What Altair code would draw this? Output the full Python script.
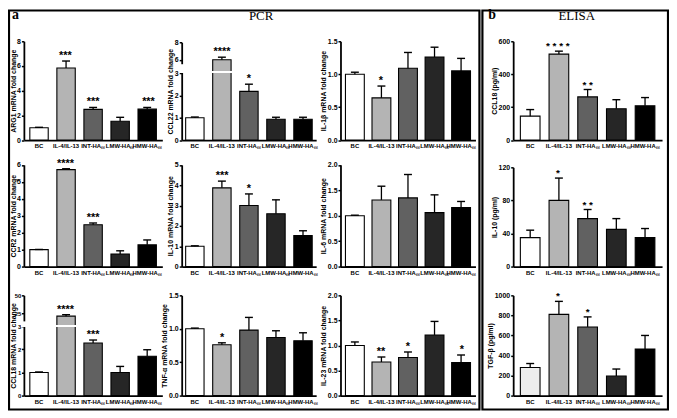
import altair as alt
import pandas as pd

# ---------------- data ----------------
categories = ["BC", "IL-4/IL-13", "INT-HAₛₛ", "LMW-HAₛₛ", "HMW-HAₛₛ"]
bar_fill = ["#ffffff", "#b4b4b4", "#616161", "#262626", "#000000"]
tgf_fill = ["#ededed", "#b4b4b4", "#616161", "#262626", "#000000"]

arg1_mean = [1.0, 5.84, 2.48, 1.52, 2.50]
arg1_sem = [0.03, 0.56, 0.16, 0.32, 0.14]
arg1_sig = ["", "***", "***", "", "***"]

ccl22_mean = [1.0, 6.0, 2.18, 0.93, 0.93]
ccl22_sem = [0.03, 0.3, 0.32, 0.09, 0.09]
ccl22_sig = ["", "****", "*", "", ""]

il1b_mean = [1.0, 0.64, 1.09, 1.26, 1.05]
il1b_sem = [0.03, 0.18, 0.24, 0.15, 0.19]
il1b_sig = ["", "*", "", "", ""]

ccl18e_mean = [145, 522, 262, 190, 208]
ccl18e_sem = [40, 18, 45, 55, 50]
ccl18e_sig = ["", "* * * *", "* *", "", ""]

ccr2_mean = [1.0, 5.72, 2.47, 0.74, 1.28]
ccr2_sem = [0.01, 0.05, 0.1, 0.19, 0.29]
ccr2_sig = ["", "****", "***", "", ""]

il10_mean = [1.0, 3.87, 3.0, 2.6, 1.52]
il10_sem = [0.02, 0.33, 0.57, 0.68, 0.24]
il10_sig = ["", "***", "*", "", ""]

il6_mean = [1.0, 1.31, 1.35, 1.06, 1.16]
il6_sem = [0.01, 0.27, 0.46, 0.35, 0.12]
il6_sig = ["", "", "", "", ""]

il10e_mean = [35, 80, 58, 45, 35]
il10e_sem = [9, 27, 11, 13, 11]
il10e_sig = ["", "*", "* *", "", ""]

ccl18_mean = [1.0, 21.0, 2.27, 1.0, 1.7]
ccl18_sem = [0.02, 2.0, 0.13, 0.26, 0.28]
ccl18_sig = ["", "****", "***", "", ""]

tnf_mean = [1.0, 0.76, 0.98, 0.87, 0.82]
tnf_sem = [0.01, 0.03, 0.19, 0.1, 0.12]
tnf_sig = ["", "*", "", "", ""]

il23_mean = [1.0, 0.67, 0.76, 1.21, 0.66]
il23_sem = [0.07, 0.1, 0.11, 0.27, 0.15]
il23_sig = ["", "**", "*", "", "*"]

tgf_mean = [280, 810, 685, 195, 465]
tgf_sem = [40, 130, 100, 70, 135]
tgf_sig = ["", "*", "*", "", ""]

# ---------------- layout ----------------
OX, OY = 8, 8          # page margin
W, H = 666, 404
COLS = {0: (24, 163.5, 0.32, 0.22), 1: (183, 318.5, 0.32, 0.147),
        2: (343, 479, 0.29, 0.187), 3: (517, 667, 0.315, 0.25)}
ROWS = {0: (139.5, 40), 1: (267, 164.5), 2: (397, 296)}
FONT = "Liberation Sans"

panels = [
    dict(title="ARG1 mRNA fold change", mean=arg1_mean, sem=arg1_sem, sig=arg1_sig,
         ticks=[0, 2, 4, 6, 8], fmt="d", row=0, col=0),
    dict(title="CCL22 mRNA fold change", mean=ccl22_mean, sem=ccl22_sem, sig=ccl22_sig,
         ticks=[0, 1, 2, 3, 6, 8], fmt="d", row=0, col=1,
         domain=[0, 3, 5.4, 8], yrange=[139.5, 72, 64, 41], brk=(3.15, 5.5, 3.3)),
    dict(title="IL-1β mRNA fold change", mean=il1b_mean, sem=il1b_sem, sig=il1b_sig,
         ticks=[0, 0.5, 1.0, 1.5], fmt=".1f", row=0, col=2),
    dict(title="CCL18 (pg/ml)", mean=ccl18e_mean, sem=ccl18e_sem, sig=ccl18e_sig,
         ticks=[0, 200, 400, 600], fmt="d", row=0, col=3),
    dict(title="CCR2 mRNA fold change", mean=ccr2_mean, sem=ccr2_sem, sig=ccr2_sig,
         ticks=[0, 1, 2, 3, 4, 5, 6], fmt="d", row=1, col=0),
    dict(title="IL-10 mRNA fold change", mean=il10_mean, sem=il10_sem, sig=il10_sig,
         ticks=[0, 1, 2, 3, 4, 5], fmt="d", row=1, col=1),
    dict(title="IL-6 mRNA fold change", mean=il6_mean, sem=il6_sem, sig=il6_sig,
         ticks=[0, 0.5, 1.0, 1.5, 2.0], fmt=".1f", row=1, col=2),
    dict(title="IL-10 (pg/ml)", mean=il10e_mean, sem=il10e_sem, sig=il10e_sig,
         ticks=[0, 40, 80, 120], fmt="d", row=1, col=3, yrange=[267, 167]),
    dict(title="CCL18 mRNA fold change", mean=ccl18_mean, sem=ccl18_sem, sig=ccl18_sig,
         ticks=[0, 1, 2, 3, 25, 50], fmt="d", row=2, col=0, label_size=6, label_pad=0.5,
         domain=[0, 3, 14, 50], yrange=[397, 327, 322, 296], brk=(3.1, 13.5, 3.3)),
    dict(title="TNF-α mRNA fold change", mean=tnf_mean, sem=tnf_sem, sig=tnf_sig,
         ticks=[0, 0.5, 1.0, 1.5], fmt=".1f", row=2, col=1),
    dict(title="IL-23 mRNA fold change", mean=il23_mean, sem=il23_sem, sig=il23_sig,
         ticks=[0, 0.5, 1.0, 1.5, 2.0], fmt=".1f", row=2, col=2),
    dict(title="TGF-β (pg/ml)", mean=tgf_mean, sem=tgf_sem, sig=tgf_sig,
         ticks=[0, 200, 400, 600, 800, 1000], fmt="d", row=2, col=3, fill=tgf_fill),
]


def build_panel(p):
    """Return a flat list of layers; every layer carries the same explicit scales."""
    x0, x1, pin, pout = COLS[p["col"]]
    yr = p.get("yrange", list(ROWS[p["row"]]))
    dom = p.get("domain", [p["ticks"][0], p["ticks"][-1]])
    zero = yr[0]
    df = pd.DataFrame({"cat": categories, "mean": p["mean"], "sem": p["sem"], "sig": p["sig"]})
    df["upper"] = df["mean"] + df["sem"]
    xs = alt.Scale(domain=categories, range=[x0 - OX, x1 - OX],
                   paddingInner=pin, paddingOuter=pout)
    ys = alt.Scale(domain=dom, range=[v - OY for v in yr], nice=False, zero=False)
    xaxis = alt.Axis(orient="bottom", offset=(zero - OY) - H, title=None, labelAngle=0,
                     ticks=False, labelFontSize=6, labelPadding=3, labelOverlap=False,
                     domainWidth=1.8)
    yargs = dict(orient="left", offset=-(x0 - OX), title=p["title"], values=p["ticks"],
                 format=p["fmt"], tickSize=2.5, tickWidth=1.5,
                 labelPadding=p.get("label_pad", 1), titlePadding=1,
                 labelFontSize=p.get("label_size", 7), titleFontSize=7,
                 labelOverlap=False, domainWidth=1.8)
    if p["col"] == 0:
        yargs["titleX"] = -7
    yaxis = alt.Axis(**yargs)
    base = alt.Chart(df)
    star_size = 10 if p["col"] == 3 else 11
    bars = base.mark_bar(stroke="black", strokeWidth=1.1).encode(
        x=alt.X("cat:N", scale=xs, axis=xaxis),
        y=alt.Y("mean:Q", scale=ys, axis=yaxis, stack=None),
        fill=alt.Fill("cat:N", scale=alt.Scale(domain=categories,
                                               range=p.get("fill", bar_fill)), legend=None),
    )
    err = base.mark_rule(color="black", strokeWidth=1.3).encode(
        x=alt.X("cat:N", scale=xs, axis=None),
        y=alt.Y("mean:Q", scale=ys, axis=None),
        y2="upper:Q",
    )
    cap = base.mark_tick(color="black", thickness=1.4, size=8, orient="horizontal",
                         opacity=1).encode(
        x=alt.X("cat:N", scale=xs, axis=None),
        y=alt.Y("upper:Q", scale=ys, axis=None),
    )
    stars = base.mark_text(font=FONT, fontSize=star_size, fontWeight="bold",
                           baseline="alphabetic", dy=-2, color="black").encode(
        x=alt.X("cat:N", scale=xs, axis=None),
        y=alt.Y("upper:Q", scale=ys, axis=None),
        text="sig:N",
    )
    layers = [bars, err, cap, stars]
    if "brk" in p:
        lo, hi, cut = p["brk"]
        one = alt.Data(values=[{}])
        gap = alt.Chart(one).mark_rect(color="white").encode(
            x=alt.value(x0 - OX - 2.5), x2=alt.value(x0 - OX + 2.5),
            y=alt.YDatum(lo, axis=None, scale=ys), y2=alt.Y2Datum(hi),
        )
        cutline = alt.Chart(one).mark_rule(color="white", strokeWidth=2).encode(
            x=alt.value(x0 - OX - 3), x2=alt.value(x1 - OX),
            y=alt.YDatum(cut, axis=None, scale=ys),
        )
        layers += [gap, cutline]
    return layers


def deco_text(txt, x, y, size, weight, font, align="left"):
    return alt.Chart(alt.Data(values=[{}])).mark_text(
        text=txt, font=font, fontSize=size, fontWeight=weight, align=align,
        baseline="alphabetic", color="black").encode(
        x=alt.value(x - OX), y=alt.value(y - OY))


def frame(x0, y0, x1, y1):
    return alt.Chart(alt.Data(values=[{}])).mark_rect(
        fillOpacity=0, stroke="black", strokeWidth=2.2).encode(
        x=alt.value(x0 - OX), x2=alt.value(x1 - OX),
        y=alt.value(y0 - OY), y2=alt.value(y1 - OY))


decos = [
    frame(9, 9, 483, 411),
    frame(486, 9, 673, 411),
    deco_text("a", 12, 18, 14, "bold", "Liberation Serif"),
    deco_text("b", 492, 18, 14, "bold", "Liberation Serif"),
    deco_text("PCR", 263, 19, 13, "normal", "Liberation Serif", align="center"),
    deco_text("ELISA", 581, 19, 13, "normal", "Liberation Serif", align="center"),
]

all_layers = []
for p in panels:
    all_layers += build_panel(p)

chart = alt.layer(*all_layers, *decos).resolve_scale(
    x="independent", y="independent", fill="independent"
).resolve_axis(
    x="independent", y="independent"
).properties(
    width=W, height=H, padding=0, autosize=alt.AutoSizeParams(type="none")
).configure_view(stroke=None).configure_axis(
    domainColor="black", tickColor="black", labelColor="black", titleColor="black",
    labelFont=FONT, titleFont=FONT, labelFontWeight="bold", titleFontWeight="bold",
    grid=False
)

chart.save("out.html", embed_options={"renderer": "svg", "actions": False})
